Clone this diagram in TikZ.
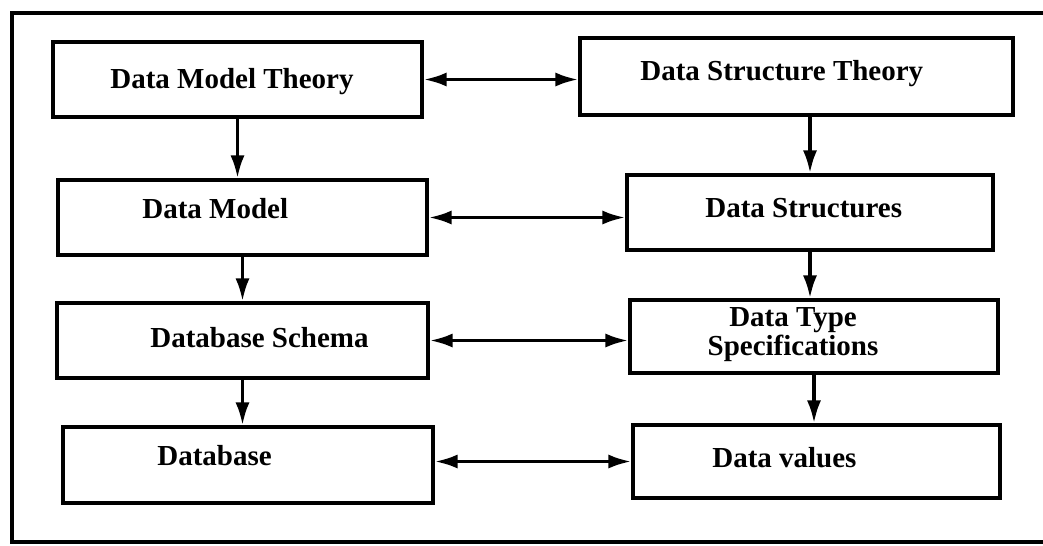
\documentclass[tikz,border=0pt]{standalone}
\usepackage{fontspec}
\setmainfont{Liberation Serif}
\usetikzlibrary{positioning,arrows.meta}

\begin{document}
\begin{tikzpicture}[x=0.02cm,y=-0.02cm,
    blk/.style={draw,line width=2pt,inner sep=0pt,minimum height=1.5cm},
    lbl/.style={inner sep=0pt,anchor=base west,font=\fontsize{16.5}{16.5}\selectfont\bfseries},
    flow/.style={line width=2pt,-{Latex[length=13pt,width=8pt]}},
    link/.style={line width=2pt,{Latex[length=13pt,width=8pt]}-{Latex[length=13pt,width=8pt]}}]
\useasboundingbox (0,0) rectangle (1043,545);
\draw[line width=2pt] (1043,13) -- (12,13) -- (12,542) -- (1043,542);
% left column
\node[blk,minimum width=7.38cm] (dmt) at (237.5,79.5) {};
\node[blk,minimum width=7.38cm] (dm) at (242.5,217.5) {};
\node[blk,minimum width=7.42cm] (dbs) at (242.5,340.5) {};
\node[blk,minimum width=7.4cm,minimum height=1.52cm] (db) at (248,465) {};
% right column
\node[blk,minimum width=8.66cm,minimum height=1.54cm] (dst) at (796.5,76.5) {};
\node[blk,minimum width=7.32cm] (ds) at (810,212.5) {};
\node[blk,minimum width=7.36cm,minimum height=1.46cm] (dts) at (814,336.5) {};
\node[blk,minimum width=7.34cm,minimum height=1.46cm] (dv) at (816.5,461.5) {};
% texts
\node[lbl] (dmt-t) at (110,88) {Data Model Theory};
\node[lbl] (dm-t) at (142,218) {Data Model};
\node[lbl] (dbs-t) at (150,347) {Database Schema};
\node[lbl] (db-t) at (157,465) {Database};
\node[lbl] (dst-t) at (640,80) {Data Structure Theory};
\node[lbl] (ds-t) at (705,217) {Data Structures};
\node[lbl,anchor=center,align=center] (dts-t) at (793,335) {Data Type\\Specifications};
\node[lbl] (dv-t) at (712,467) {Data values};
% arrows down
\draw[flow] (dmt.south) -- (dmt.south |- dm.north);
\draw[flow] (dm.south) -- (dm.south |- dbs.north);
\draw[flow] (dbs.south) -- (dbs.south |- db.north);
\draw[flow] (ds.north |- dst.south) -- (ds.north);
\draw[flow] (ds.south) -- (ds.south |- dts.north);
\draw[flow] (dts.south) -- (dts.south |- dv.north);
% arrows across
\draw[link] (dmt.east) -- (dst.west |- dmt.east);
\draw[link] (dm.east) -- (ds.west |- dm.east);
\draw[link] (dbs.east) -- (dts.west |- dbs.east);
\draw[link] (db.east |- dv.west) -- (dv.west);
\end{tikzpicture}
\end{document}
